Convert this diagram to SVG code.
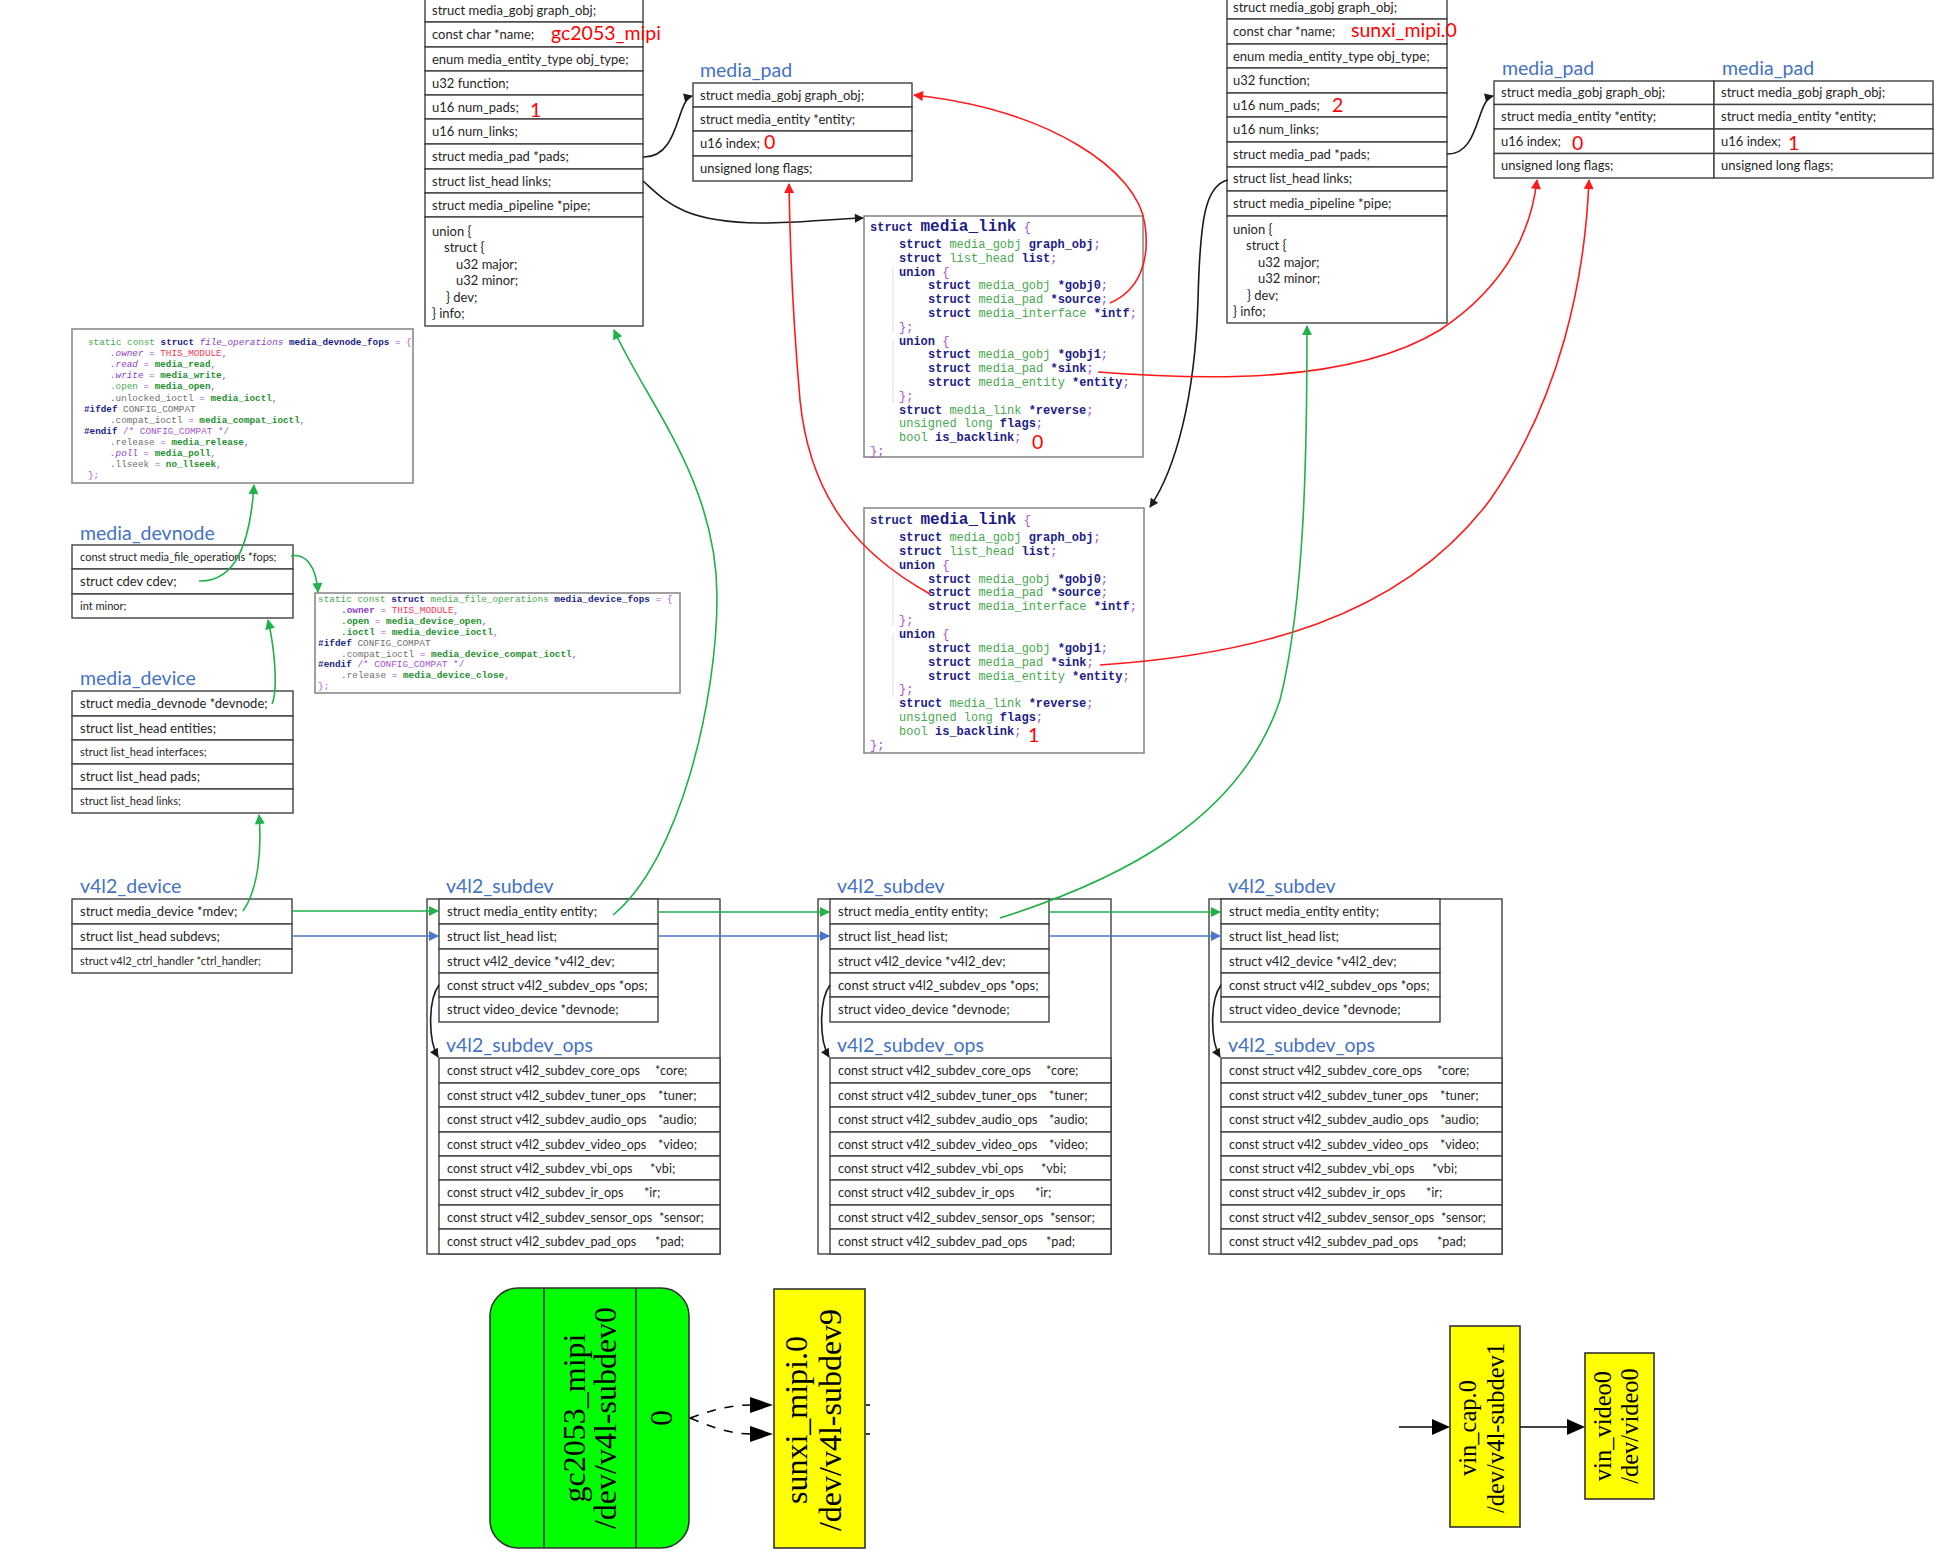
<svg xmlns="http://www.w3.org/2000/svg" width="1945" height="1555" viewBox="0 0 1945 1555">
<defs>
<style>
.row{fill:#fff;stroke:#404040;stroke-width:1.4}
.frame{fill:none;stroke:#404040;stroke-width:1.4}
.cbox{fill:#fff;stroke:#8a8a8a;stroke-width:1.6}
.t{font-family:Lato,"Liberation Sans",sans-serif;font-size:13px;fill:#262626}
.s{font-size:11px}
.o{font-size:12.6px}
.ttl{font-family:Lato,"Liberation Sans",sans-serif;font-size:19.5px;fill:#4472c4}
.rv{font-family:Lato,"Liberation Sans",sans-serif;font-size:19.5px;fill:#ff0000}
.c{font-family:"Liberation Mono","DejaVu Sans Mono",monospace;font-size:12px}
.c9{font-family:"Liberation Mono","DejaVu Sans Mono",monospace;font-size:9.3px}
.c8{font-family:"Liberation Mono","DejaVu Sans Mono",monospace;font-size:9.4px}
.k{fill:#1c1c88;font-weight:bold}
.ty{fill:#48a84e}
.p{fill:#a64fd6}
.pb{fill:#8b3fc9;font-weight:bold}
.gb{fill:#1f8f2f;font-weight:bold}
.gr{fill:#6e6e6e}
.pi{fill:#8b3fc9;font-style:italic}
.rd{fill:#ff3355}
.fold{stroke:#e0e0e0;stroke-width:1;fill:none}
.eg{fill:none;stroke:#22b04b;stroke-width:1.6}
.eb{fill:none;stroke:#4a78c8;stroke-width:1.6}
.er{fill:none;stroke:#ff1a1a;stroke-width:1.6}
.ek{fill:none;stroke:#1a1a1a;stroke-width:1.6}
.gv{font-family:"Liberation Serif","Times New Roman",serif;fill:#000}
.gvn{stroke:#333;stroke-width:1.6}
</style>
<marker id="ag" viewBox="0 0 10 10" refX="9" refY="5" markerWidth="11" markerHeight="10" markerUnits="userSpaceOnUse" orient="auto"><path d="M0,0 L10,5 L0,10 z" fill="#22b04b"/></marker>
<marker id="ab" viewBox="0 0 10 10" refX="9" refY="5" markerWidth="11" markerHeight="10" markerUnits="userSpaceOnUse" orient="auto"><path d="M0,0 L10,5 L0,10 z" fill="#4a78c8"/></marker>
<marker id="ar" viewBox="0 0 10 10" refX="9" refY="5" markerWidth="12" markerHeight="10" markerUnits="userSpaceOnUse" orient="auto"><path d="M0,0 L10,5 L0,10 z" fill="#ff1a1a"/></marker>
<marker id="ak" viewBox="0 0 10 10" refX="9" refY="5" markerWidth="11" markerHeight="9" markerUnits="userSpaceOnUse" orient="auto"><path d="M0,0 L10,5 L0,10 z" fill="#1a1a1a"/></marker>
</defs>
<rect x="0" y="0" width="1945" height="1555" fill="#fff"/>

<!-- media_entity gc2053 -->
<g id="entity-gc2053">
<rect class="row" x="425" y="-2" width="218" height="24"/>
<rect class="row" x="425" y="22" width="218" height="25"/>
<rect class="row" x="425" y="47" width="218" height="24"/>
<rect class="row" x="425" y="71" width="218" height="24"/>
<rect class="row" x="425" y="95" width="218" height="24"/>
<rect class="row" x="425" y="119" width="218" height="25"/>
<rect class="row" x="425" y="144" width="218" height="25"/>
<rect class="row" x="425" y="169" width="218" height="24"/>
<rect class="row" x="425" y="193" width="218" height="24"/>
<rect class="row" x="425" y="217" width="218" height="109"/>
<text class="t" x="432" y="14.5">struct media_gobj graph_obj;</text>
<text class="t" x="432" y="39">const char *name;</text>
<text class="t" x="432" y="63.5">enum media_entity_type obj_type;</text>
<text class="t" x="432" y="87.5">u32 function;</text>
<text class="t" x="432" y="111.5">u16 num_pads;</text>
<text class="t" x="432" y="136">u16 num_links;</text>
<text class="t" x="432" y="161">struct media_pad *pads;</text>
<text class="t" x="432" y="185.5">struct list_head links;</text>
<text class="t" x="432" y="209.5">struct media_pipeline *pipe;</text>
<text class="t" x="432" y="235.5">union {</text>
<text class="t" x="444" y="252">struct {</text>
<text class="t" x="456" y="268.5">u32 major;</text>
<text class="t" x="456" y="285">u32 minor;</text>
<text class="t" x="446" y="301.5">} dev;</text>
<text class="t" x="432" y="318">} info;</text>
<text class="rv" x="551" y="40">gc2053_mipi</text>
<text class="rv" x="530" y="117">1</text>
</g>

<!-- media_entity sunxi -->
<g id="entity-sunxi">
<rect class="row" x="1227" y="-5" width="220" height="24"/>
<rect class="row" x="1227" y="19" width="220" height="25"/>
<rect class="row" x="1227" y="44" width="220" height="24"/>
<rect class="row" x="1227" y="68" width="220" height="25"/>
<rect class="row" x="1227" y="93" width="220" height="24"/>
<rect class="row" x="1227" y="117" width="220" height="25"/>
<rect class="row" x="1227" y="142" width="220" height="25"/>
<rect class="row" x="1227" y="167" width="220" height="24"/>
<rect class="row" x="1227" y="191" width="220" height="25"/>
<rect class="row" x="1227" y="216" width="220" height="107"/>
<text class="t" x="1233" y="11.5">struct media_gobj graph_obj;</text>
<text class="t" x="1233" y="36">const char *name;</text>
<text class="t" x="1233" y="60.5">enum media_entity_type obj_type;</text>
<text class="t" x="1233" y="85">u32 function;</text>
<text class="t" x="1233" y="109.5">u16 num_pads;</text>
<text class="t" x="1233" y="134">u16 num_links;</text>
<text class="t" x="1233" y="158.5">struct media_pad *pads;</text>
<text class="t" x="1233" y="183">struct list_head links;</text>
<text class="t" x="1233" y="207.5">struct media_pipeline *pipe;</text>
<text class="t" x="1233" y="233.5">union {</text>
<text class="t" x="1246" y="250">struct {</text>
<text class="t" x="1258" y="266.5">u32 major;</text>
<text class="t" x="1258" y="283">u32 minor;</text>
<text class="t" x="1247" y="299.5">} dev;</text>
<text class="t" x="1233" y="316">} info;</text>
<text class="rv" x="1351" y="37">sunxi_mipi.0</text>
<text class="rv" x="1332" y="112">2</text>
</g>

<!-- media_pad of gc2053 -->
<g id="pad-gc2053">
<text class="ttl" x="700" y="77">media_pad</text>
<rect class="row" x="693" y="83" width="219" height="24"/>
<rect class="row" x="693" y="107" width="219" height="24"/>
<rect class="row" x="693" y="131" width="219" height="25"/>
<rect class="row" x="693" y="156" width="219" height="25"/>
<text class="t" x="700" y="99.5">struct media_gobj graph_obj;</text>
<text class="t" x="700" y="123.5">struct media_entity *entity;</text>
<text class="t" x="700" y="148">u16 index;</text>
<text class="t" x="700" y="173">unsigned long flags;</text>
<text class="rv" x="764" y="149">0</text>
</g>

<!-- media_pads of sunxi -->
<g id="pads-sunxi">
<text class="ttl" x="1502" y="75">media_pad</text>
<text class="ttl" x="1722" y="75">media_pad</text>
<rect class="row" x="1494" y="81" width="220" height="23.5"/>
<rect class="row" x="1494" y="104.5" width="220" height="24.5"/>
<rect class="row" x="1494" y="129" width="220" height="24.5"/>
<rect class="row" x="1494" y="153.5" width="220" height="24.5"/>
<rect class="row" x="1714" y="81" width="219" height="23.5"/>
<rect class="row" x="1714" y="104.5" width="219" height="24.5"/>
<rect class="row" x="1714" y="129" width="219" height="24.5"/>
<rect class="row" x="1714" y="153.5" width="219" height="24.5"/>
<text class="t" x="1501" y="97">struct media_gobj graph_obj;</text>
<text class="t" x="1501" y="121">struct media_entity *entity;</text>
<text class="t" x="1501" y="145.5">u16 index;</text>
<text class="t" x="1501" y="170">unsigned long flags;</text>
<text class="t" x="1721" y="97">struct media_gobj graph_obj;</text>
<text class="t" x="1721" y="121">struct media_entity *entity;</text>
<text class="t" x="1721" y="145.5">u16 index;</text>
<text class="t" x="1721" y="170">unsigned long flags;</text>
<text class="rv" x="1572" y="150">0</text>
<text class="rv" x="1788" y="150">1</text>
</g>

<!-- media_link 0 -->
<g id="link-0">
<rect class="cbox" x="864" y="216" width="279" height="241"/>
<path class="fold" d="M893 266 V333 M893 340 V403"/>
<text class="c" x="870" y="231"><tspan class="k">struct</tspan> <tspan class="k" style="font-size:16px">media_link</tspan> <tspan class="p">{</tspan></text>
<text class="c" x="899" y="248"><tspan class="k">struct</tspan> <tspan class="ty">media_gobj</tspan> <tspan class="k">graph_obj</tspan><tspan class="p">;</tspan></text>
<text class="c" x="899" y="261.8"><tspan class="k">struct</tspan> <tspan class="ty">list_head</tspan> <tspan class="k">list</tspan><tspan class="p">;</tspan></text>
<text class="c" x="899" y="275.6"><tspan class="k">union</tspan> <tspan class="p">{</tspan></text>
<text class="c" x="928" y="289.4"><tspan class="k">struct</tspan> <tspan class="ty">media_gobj</tspan> <tspan class="k">*gobj0</tspan><tspan class="p">;</tspan></text>
<text class="c" x="928" y="303.2"><tspan class="k">struct</tspan> <tspan class="ty">media_pad</tspan> <tspan class="k">*source</tspan><tspan class="p">;</tspan></text>
<text class="c" x="928" y="317"><tspan class="k">struct</tspan> <tspan class="ty">media_interface</tspan> <tspan class="k">*intf</tspan><tspan class="p">;</tspan></text>
<text class="c" x="899" y="330.8"><tspan class="p">};</tspan></text>
<text class="c" x="899" y="344.6"><tspan class="k">union</tspan> <tspan class="p">{</tspan></text>
<text class="c" x="928" y="358.4"><tspan class="k">struct</tspan> <tspan class="ty">media_gobj</tspan> <tspan class="k">*gobj1</tspan><tspan class="p">;</tspan></text>
<text class="c" x="928" y="372.2"><tspan class="k">struct</tspan> <tspan class="ty">media_pad</tspan> <tspan class="k">*sink</tspan><tspan class="p">;</tspan></text>
<text class="c" x="928" y="386"><tspan class="k">struct</tspan> <tspan class="ty">media_entity</tspan> <tspan class="k">*entity</tspan><tspan class="p">;</tspan></text>
<text class="c" x="899" y="399.8"><tspan class="p">};</tspan></text>
<text class="c" x="899" y="413.6"><tspan class="k">struct</tspan> <tspan class="ty">media_link</tspan> <tspan class="k">*reverse</tspan><tspan class="p">;</tspan></text>
<text class="c" x="899" y="427.4"><tspan class="ty">unsigned long</tspan> <tspan class="k">flags</tspan><tspan class="p">;</tspan></text>
<text class="c" x="899" y="441.2"><tspan class="ty">bool</tspan> <tspan class="k">is_backlink</tspan><tspan class="p">;</tspan></text>
<text class="c" x="870" y="455"><tspan class="p">};</tspan></text>
<text class="rv" x="1032" y="449">0</text>
</g>

<!-- media_link 1 -->
<g id="link-1">
<rect class="cbox" x="864" y="508" width="280" height="245"/>
<path class="fold" d="M893 559 V626 M893 633 V697"/>
<text class="c" x="870" y="524"><tspan class="k">struct</tspan> <tspan class="k" style="font-size:16px">media_link</tspan> <tspan class="p">{</tspan></text>
<text class="c" x="899" y="541"><tspan class="k">struct</tspan> <tspan class="ty">media_gobj</tspan> <tspan class="k">graph_obj</tspan><tspan class="p">;</tspan></text>
<text class="c" x="899" y="554.85"><tspan class="k">struct</tspan> <tspan class="ty">list_head</tspan> <tspan class="k">list</tspan><tspan class="p">;</tspan></text>
<text class="c" x="899" y="568.7"><tspan class="k">union</tspan> <tspan class="p">{</tspan></text>
<text class="c" x="928" y="582.55"><tspan class="k">struct</tspan> <tspan class="ty">media_gobj</tspan> <tspan class="k">*gobj0</tspan><tspan class="p">;</tspan></text>
<text class="c" x="928" y="596.4"><tspan class="k">struct</tspan> <tspan class="ty">media_pad</tspan> <tspan class="k">*source</tspan><tspan class="p">;</tspan></text>
<text class="c" x="928" y="610.25"><tspan class="k">struct</tspan> <tspan class="ty">media_interface</tspan> <tspan class="k">*intf</tspan><tspan class="p">;</tspan></text>
<text class="c" x="899" y="624.1"><tspan class="p">};</tspan></text>
<text class="c" x="899" y="637.95"><tspan class="k">union</tspan> <tspan class="p">{</tspan></text>
<text class="c" x="928" y="651.8"><tspan class="k">struct</tspan> <tspan class="ty">media_gobj</tspan> <tspan class="k">*gobj1</tspan><tspan class="p">;</tspan></text>
<text class="c" x="928" y="665.65"><tspan class="k">struct</tspan> <tspan class="ty">media_pad</tspan> <tspan class="k">*sink</tspan><tspan class="p">;</tspan></text>
<text class="c" x="928" y="679.5"><tspan class="k">struct</tspan> <tspan class="ty">media_entity</tspan> <tspan class="k">*entity</tspan><tspan class="p">;</tspan></text>
<text class="c" x="899" y="693.35"><tspan class="p">};</tspan></text>
<text class="c" x="899" y="707.2"><tspan class="k">struct</tspan> <tspan class="ty">media_link</tspan> <tspan class="k">*reverse</tspan><tspan class="p">;</tspan></text>
<text class="c" x="899" y="721.05"><tspan class="ty">unsigned long</tspan> <tspan class="k">flags</tspan><tspan class="p">;</tspan></text>
<text class="c" x="899" y="734.9"><tspan class="ty">bool</tspan> <tspan class="k">is_backlink</tspan><tspan class="p">;</tspan></text>
<text class="c" x="870" y="748.75"><tspan class="p">};</tspan></text>
<text class="rv" x="1028" y="742">1</text>
</g>

<!-- media_devnode_fops -->
<g id="devnode-fops">
<rect class="cbox" x="72" y="329" width="341" height="154"/>
<text class="c9" x="88" y="345"><tspan class="ty">static const</tspan> <tspan class="k">struct</tspan> <tspan class="pi">file_operations</tspan> <tspan class="k">media_devnode_fops</tspan> <tspan class="p">= {</tspan></text>
<text class="c9" x="110" y="356.1"><tspan class="pi">.owner</tspan> <tspan class="p">=</tspan> <tspan class="rd">THIS_MODULE</tspan><tspan class="p">,</tspan></text>
<text class="c9" x="110" y="367.2"><tspan class="pi">.read</tspan> <tspan class="p">=</tspan> <tspan class="gb">media_read</tspan><tspan class="p">,</tspan></text>
<text class="c9" x="110" y="378.3"><tspan class="pi">.write</tspan> <tspan class="p">=</tspan> <tspan class="gb">media_write</tspan><tspan class="p">,</tspan></text>
<text class="c9" x="110" y="389.4"><tspan class="ty">.open</tspan> <tspan class="p">=</tspan> <tspan class="gb">media_open</tspan><tspan class="p">,</tspan></text>
<text class="c9" x="110" y="400.5"><tspan class="gr">.unlocked_ioctl</tspan> <tspan class="p">=</tspan> <tspan class="gb">media_ioctl</tspan><tspan class="p">,</tspan></text>
<text class="c9" x="84" y="411.6"><tspan class="k">#ifdef</tspan> <tspan class="gr">CONFIG_COMPAT</tspan></text>
<text class="c9" x="110" y="422.7"><tspan class="gr">.compat_ioctl</tspan> <tspan class="p">=</tspan> <tspan class="gb">media_compat_ioctl</tspan><tspan class="p">,</tspan></text>
<text class="c9" x="84" y="433.8"><tspan class="k">#endif</tspan> <tspan class="p">/* CONFIG_COMPAT */</tspan></text>
<text class="c9" x="110" y="444.9"><tspan class="gr">.release</tspan> <tspan class="p">=</tspan> <tspan class="gb">media_release</tspan><tspan class="p">,</tspan></text>
<text class="c9" x="110" y="456"><tspan class="pi">.poll</tspan> <tspan class="p">=</tspan> <tspan class="gb">media_poll</tspan><tspan class="p">,</tspan></text>
<text class="c9" x="110" y="467.1"><tspan class="gr">.llseek</tspan> <tspan class="p">=</tspan> <tspan class="gb">no_llseek</tspan><tspan class="p">,</tspan></text>
<text class="c9" x="88" y="478.2"><tspan class="p">};</tspan></text>
</g>

<!-- media_devnode -->
<g id="media-devnode">
<text class="ttl" x="80" y="540">media_devnode</text>
<rect class="row" x="72" y="545" width="221" height="24"/>
<rect class="row" x="72" y="569" width="221" height="25"/>
<rect class="row" x="72" y="594" width="221" height="24"/>
<text class="t s" x="80" y="561">const struct media_file_operations *fops;</text>
<text class="t" x="80" y="586">struct cdev cdev;</text>
<text class="t s" x="80" y="610">int minor;</text>
</g>

<!-- media_device_fops -->
<g id="device-fops">
<rect class="cbox" x="315" y="593" width="365" height="100"/>
<text class="c8" x="318" y="602"><tspan class="ty">static const</tspan> <tspan class="k">struct</tspan> <tspan class="ty">media_file_operations</tspan> <tspan class="k">media_device_fops</tspan> <tspan class="p">= {</tspan></text>
<text class="c8" x="341" y="612.9"><tspan class="pb">.owner</tspan> <tspan class="p">=</tspan> <tspan class="rd">THIS_MODULE</tspan><tspan class="p">,</tspan></text>
<text class="c8" x="341" y="623.8"><tspan class="gb">.open</tspan> <tspan class="p">=</tspan> <tspan class="gb">media_device_open</tspan><tspan class="p">,</tspan></text>
<text class="c8" x="341" y="634.7"><tspan class="gb">.ioctl</tspan> <tspan class="p">=</tspan> <tspan class="gb">media_device_ioctl</tspan><tspan class="p">,</tspan></text>
<text class="c8" x="318" y="645.6"><tspan class="k">#ifdef</tspan> <tspan class="gr">CONFIG_COMPAT</tspan></text>
<text class="c8" x="341" y="656.5"><tspan class="gr">.compat_ioctl</tspan> <tspan class="p">=</tspan> <tspan class="gb">media_device_compat_ioctl</tspan><tspan class="p">,</tspan></text>
<text class="c8" x="318" y="667.4"><tspan class="k">#endif</tspan> <tspan class="p">/* CONFIG_COMPAT */</tspan></text>
<text class="c8" x="341" y="678.3"><tspan class="gr">.release</tspan> <tspan class="p">=</tspan> <tspan class="gb">media_device_close</tspan><tspan class="p">,</tspan></text>
<text class="c8" x="318" y="689.2"><tspan class="p">};</tspan></text>
</g>

<!-- media_device -->
<g id="media-device">
<text class="ttl" x="80" y="685">media_device</text>
<rect class="row" x="72" y="691" width="221" height="25"/>
<rect class="row" x="72" y="716" width="221" height="24"/>
<rect class="row" x="72" y="740" width="221" height="24"/>
<rect class="row" x="72" y="764" width="221" height="25"/>
<rect class="row" x="72" y="789" width="221" height="24"/>
<text class="t" x="80" y="708">struct media_devnode *devnode;</text>
<text class="t" x="80" y="732.5">struct list_head entities;</text>
<text class="t s" x="80" y="756">struct list_head interfaces;</text>
<text class="t" x="80" y="781">struct list_head pads;</text>
<text class="t s" x="80" y="805">struct list_head links;</text>
</g>

<!-- v4l2_device -->
<g id="v4l2-device">
<text class="ttl" x="80" y="893">v4l2_device</text>
<rect class="row" x="72" y="899" width="220" height="25"/>
<rect class="row" x="72" y="924" width="220" height="25"/>
<rect class="row" x="72" y="949" width="220" height="24"/>
<text class="t" x="80" y="916">struct media_device *mdev;</text>
<text class="t" x="80" y="941">struct list_head subdevs;</text>
<text class="t s" x="80" y="965">struct v4l2_ctrl_handler *ctrl_handler;</text>
</g>

<!-- v4l2_subdev 1 -->
<g id="subdev-gc2053">
<text class="ttl" x="446" y="893">v4l2_subdev</text>
<rect class="frame" x="427" y="899" width="293" height="355"/>
<rect class="row" x="439" y="899" width="219" height="25"/>
<rect class="row" x="439" y="924" width="219" height="25"/>
<rect class="row" x="439" y="949" width="219" height="24"/>
<rect class="row" x="439" y="973" width="219" height="24"/>
<rect class="row" x="439" y="997" width="219" height="25"/>
<text class="t" x="447" y="916">struct media_entity entity;</text>
<text class="t" x="447" y="941">struct list_head list;</text>
<text class="t" x="447" y="965.5">struct v4l2_device *v4l2_dev;</text>
<text class="t" x="447" y="989.5">const struct v4l2_subdev_ops *ops;</text>
<text class="t" x="447" y="1014">struct video_device *devnode;</text>
<text class="ttl" x="446" y="1052">v4l2_subdev_ops</text>
<rect class="row" x="439" y="1058" width="281" height="25"/>
<rect class="row" x="439" y="1083" width="281" height="24"/>
<rect class="row" x="439" y="1107" width="281" height="25"/>
<rect class="row" x="439" y="1132" width="281" height="24"/>
<rect class="row" x="439" y="1156" width="281" height="24"/>
<rect class="row" x="439" y="1180" width="281" height="25"/>
<rect class="row" x="439" y="1205" width="281" height="24"/>
<rect class="row" x="439" y="1229" width="281" height="25"/>
<text class="t o" y="1075"><tspan x="447">const struct v4l2_subdev_core_ops</tspan><tspan x="655">*core;</tspan></text>
<text class="t o" y="1099.5"><tspan x="447">const struct v4l2_subdev_tuner_ops</tspan><tspan x="658">*tuner;</tspan></text>
<text class="t o" y="1124"><tspan x="447">const struct v4l2_subdev_audio_ops</tspan><tspan x="658">*audio;</tspan></text>
<text class="t o" y="1148.5"><tspan x="447">const struct v4l2_subdev_video_ops</tspan><tspan x="658">*video;</tspan></text>
<text class="t o" y="1172.5"><tspan x="447">const struct v4l2_subdev_vbi_ops</tspan><tspan x="650">*vbi;</tspan></text>
<text class="t o" y="1197"><tspan x="447">const struct v4l2_subdev_ir_ops</tspan><tspan x="644">*ir;</tspan></text>
<text class="t o" y="1221.5"><tspan x="447">const struct v4l2_subdev_sensor_ops</tspan><tspan x="659">*sensor;</tspan></text>
<text class="t o" y="1246"><tspan x="447">const struct v4l2_subdev_pad_ops</tspan><tspan x="655">*pad;</tspan></text>
</g>

<!-- v4l2_subdev 2 -->
<g id="subdev-sunxi" transform="translate(391,0)">
<text class="ttl" x="446" y="893">v4l2_subdev</text>
<rect class="frame" x="427" y="899" width="293" height="355"/>
<rect class="row" x="439" y="899" width="219" height="25"/>
<rect class="row" x="439" y="924" width="219" height="25"/>
<rect class="row" x="439" y="949" width="219" height="24"/>
<rect class="row" x="439" y="973" width="219" height="24"/>
<rect class="row" x="439" y="997" width="219" height="25"/>
<text class="t" x="447" y="916">struct media_entity entity;</text>
<text class="t" x="447" y="941">struct list_head list;</text>
<text class="t" x="447" y="965.5">struct v4l2_device *v4l2_dev;</text>
<text class="t" x="447" y="989.5">const struct v4l2_subdev_ops *ops;</text>
<text class="t" x="447" y="1014">struct video_device *devnode;</text>
<text class="ttl" x="446" y="1052">v4l2_subdev_ops</text>
<rect class="row" x="439" y="1058" width="281" height="25"/>
<rect class="row" x="439" y="1083" width="281" height="24"/>
<rect class="row" x="439" y="1107" width="281" height="25"/>
<rect class="row" x="439" y="1132" width="281" height="24"/>
<rect class="row" x="439" y="1156" width="281" height="24"/>
<rect class="row" x="439" y="1180" width="281" height="25"/>
<rect class="row" x="439" y="1205" width="281" height="24"/>
<rect class="row" x="439" y="1229" width="281" height="25"/>
<text class="t o" y="1075"><tspan x="447">const struct v4l2_subdev_core_ops</tspan><tspan x="655">*core;</tspan></text>
<text class="t o" y="1099.5"><tspan x="447">const struct v4l2_subdev_tuner_ops</tspan><tspan x="658">*tuner;</tspan></text>
<text class="t o" y="1124"><tspan x="447">const struct v4l2_subdev_audio_ops</tspan><tspan x="658">*audio;</tspan></text>
<text class="t o" y="1148.5"><tspan x="447">const struct v4l2_subdev_video_ops</tspan><tspan x="658">*video;</tspan></text>
<text class="t o" y="1172.5"><tspan x="447">const struct v4l2_subdev_vbi_ops</tspan><tspan x="650">*vbi;</tspan></text>
<text class="t o" y="1197"><tspan x="447">const struct v4l2_subdev_ir_ops</tspan><tspan x="644">*ir;</tspan></text>
<text class="t o" y="1221.5"><tspan x="447">const struct v4l2_subdev_sensor_ops</tspan><tspan x="659">*sensor;</tspan></text>
<text class="t o" y="1246"><tspan x="447">const struct v4l2_subdev_pad_ops</tspan><tspan x="655">*pad;</tspan></text>
</g>

<!-- v4l2_subdev 3 -->
<g id="subdev-vincap" transform="translate(782,0)">
<text class="ttl" x="446" y="893">v4l2_subdev</text>
<rect class="frame" x="427" y="899" width="293" height="355"/>
<rect class="row" x="439" y="899" width="219" height="25"/>
<rect class="row" x="439" y="924" width="219" height="25"/>
<rect class="row" x="439" y="949" width="219" height="24"/>
<rect class="row" x="439" y="973" width="219" height="24"/>
<rect class="row" x="439" y="997" width="219" height="25"/>
<text class="t" x="447" y="916">struct media_entity entity;</text>
<text class="t" x="447" y="941">struct list_head list;</text>
<text class="t" x="447" y="965.5">struct v4l2_device *v4l2_dev;</text>
<text class="t" x="447" y="989.5">const struct v4l2_subdev_ops *ops;</text>
<text class="t" x="447" y="1014">struct video_device *devnode;</text>
<text class="ttl" x="446" y="1052">v4l2_subdev_ops</text>
<rect class="row" x="439" y="1058" width="281" height="25"/>
<rect class="row" x="439" y="1083" width="281" height="24"/>
<rect class="row" x="439" y="1107" width="281" height="25"/>
<rect class="row" x="439" y="1132" width="281" height="24"/>
<rect class="row" x="439" y="1156" width="281" height="24"/>
<rect class="row" x="439" y="1180" width="281" height="25"/>
<rect class="row" x="439" y="1205" width="281" height="24"/>
<rect class="row" x="439" y="1229" width="281" height="25"/>
<text class="t o" y="1075"><tspan x="447">const struct v4l2_subdev_core_ops</tspan><tspan x="655">*core;</tspan></text>
<text class="t o" y="1099.5"><tspan x="447">const struct v4l2_subdev_tuner_ops</tspan><tspan x="658">*tuner;</tspan></text>
<text class="t o" y="1124"><tspan x="447">const struct v4l2_subdev_audio_ops</tspan><tspan x="658">*audio;</tspan></text>
<text class="t o" y="1148.5"><tspan x="447">const struct v4l2_subdev_video_ops</tspan><tspan x="658">*video;</tspan></text>
<text class="t o" y="1172.5"><tspan x="447">const struct v4l2_subdev_vbi_ops</tspan><tspan x="650">*vbi;</tspan></text>
<text class="t o" y="1197"><tspan x="447">const struct v4l2_subdev_ir_ops</tspan><tspan x="644">*ir;</tspan></text>
<text class="t o" y="1221.5"><tspan x="447">const struct v4l2_subdev_sensor_ops</tspan><tspan x="659">*sensor;</tspan></text>
<text class="t o" y="1246"><tspan x="447">const struct v4l2_subdev_pad_ops</tspan><tspan x="655">*pad;</tspan></text>
</g>

<!-- graphviz nodes -->
<g id="gv-gc2053">
<rect x="490" y="1288" width="199" height="260" rx="28" ry="28" fill="#00ff00" class="gvn"/>
<line x1="544" y1="1288" x2="544" y2="1548" class="gvn"/>
<line x1="636" y1="1288" x2="636" y2="1548" class="gvn"/>
<text class="gv" font-size="32" text-anchor="middle" transform="translate(585,1418) rotate(-90)">gc2053_mipi</text>
<text class="gv" font-size="32" text-anchor="middle" transform="translate(616,1418) rotate(-90)">/dev/v4l-subdev0</text>
<text class="gv" font-size="32" text-anchor="middle" transform="translate(672,1418) rotate(-90)">0</text>
</g>
<g id="gv-sunxi">
<rect x="774" y="1289" width="91" height="259" fill="#ffff00" class="gvn"/>
<text class="gv" font-size="32" text-anchor="middle" transform="translate(807,1420) rotate(-90)">sunxi_mipi.0</text>
<text class="gv" font-size="32" text-anchor="middle" transform="translate(841,1420) rotate(-90)">/dev/v4l-subdev9</text>
</g>
<g id="gv-vincap">
<rect x="1450" y="1326" width="70" height="201" fill="#ffff00" class="gvn"/>
<text class="gv" font-size="24.5" text-anchor="middle" transform="translate(1476,1428) rotate(-90)">vin_cap.0</text>
<text class="gv" font-size="24.5" text-anchor="middle" transform="translate(1504,1428) rotate(-90)">/dev/v4l-subdev1</text>
</g>
<g id="gv-vinvideo">
<rect x="1585" y="1353" width="69" height="146" fill="#ffff00" class="gvn"/>
<text class="gv" font-size="24.5" text-anchor="middle" transform="translate(1611,1426) rotate(-90)">vin_video0</text>
<text class="gv" font-size="24.5" text-anchor="middle" transform="translate(1638,1426) rotate(-90)">/dev/video0</text>
</g>

<!-- connectors -->
<g id="connectors">
<path class="ek" d="M643 157 C680 158 676 100 692 96" marker-end="url(#ak)"/>
<path class="ek" d="M643 181 C665 200 680 222 760 223 C800 223 830 219 863 218" marker-end="url(#ak)"/>
<path class="ek" d="M1228 180 C1205 185 1200 220 1198 300 C1195 400 1175 470 1150 507" marker-end="url(#ak)"/>
<path class="ek" d="M1447 154 C1480 155 1476 100 1493 96" marker-end="url(#ak)"/>
<path class="er" d="M1110 303 C1140 290 1150 260 1145 225 C1138 170 1050 110 914 95" marker-end="url(#ar)"/>
<path class="er" d="M930 594 C860 555 810 500 800 400 C793 320 790 250 789 184" marker-end="url(#ar)"/>
<path class="er" d="M1098 372 C1200 380 1350 385 1440 330 C1500 290 1530 240 1537 180" marker-end="url(#ar)"/>
<path class="er" d="M1100 665 C1250 655 1400 620 1490 500 C1560 400 1585 280 1589 180" marker-end="url(#ar)"/>
<path class="eg" d="M199 581 C235 582 250 545 254 485" marker-end="url(#ag)"/>
<path class="eg" d="M291 556 C305 553 316 565 318 592" marker-end="url(#ag)"/>
<path class="eg" d="M272 704 C278 690 275 650 268 620" marker-end="url(#ag)"/>
<path class="eg" d="M243 911 C258 890 262 850 259 815" marker-end="url(#ag)"/>
<path class="eg" d="M613 915 C680 860 717 700 717 597 C717 480 645 400 614 330" marker-end="url(#ag)"/>
<path class="eg" d="M1000 918 C1120 880 1240 820 1280 700 C1305 600 1307 450 1307 326" marker-end="url(#ag)"/>
<path class="eg" d="M292 911 H438" marker-end="url(#ag)"/>
<path class="eg" d="M658 912 H829" marker-end="url(#ag)"/>
<path class="eg" d="M1049 912 H1220" marker-end="url(#ag)"/>
<path class="eb" d="M292 936 H438" marker-end="url(#ab)"/>
<path class="eb" d="M658 936 H829" marker-end="url(#ab)"/>
<path class="eb" d="M1049 936 H1220" marker-end="url(#ab)"/>
<path class="ek" d="M439 985 C428 1000 428 1040 438 1057" marker-end="url(#ak)"/>
<path class="ek" d="M830 985 C819 1000 819 1040 829 1057" marker-end="url(#ak)"/>
<path class="ek" d="M1221 985 C1210 1000 1210 1040 1220 1057" marker-end="url(#ak)"/>
<path d="M690 1418 C712 1410 730 1405 751 1405" fill="none" stroke="#000" stroke-width="1.6" stroke-dasharray="9,9"/>
<path d="M690 1418 C712 1427 730 1434 751 1434" fill="none" stroke="#000" stroke-width="1.6" stroke-dasharray="9,9"/>
<polygon points="750,1397 773,1405 750,1413" fill="#000"/>
<polygon points="750,1426 773,1434 750,1442" fill="#000"/>
<path d="M866 1405 H870 M866 1434 H870" stroke="#000" stroke-width="1.6"/>
<line x1="1399" y1="1427" x2="1433" y2="1427" stroke="#000" stroke-width="1.6"/>
<polygon points="1432,1419 1450,1427 1432,1435" fill="#000"/>
<line x1="1520" y1="1427" x2="1568" y2="1427" stroke="#000" stroke-width="1.6"/>
<polygon points="1567,1419 1585,1427 1567,1435" fill="#000"/>
</g>
</svg>
